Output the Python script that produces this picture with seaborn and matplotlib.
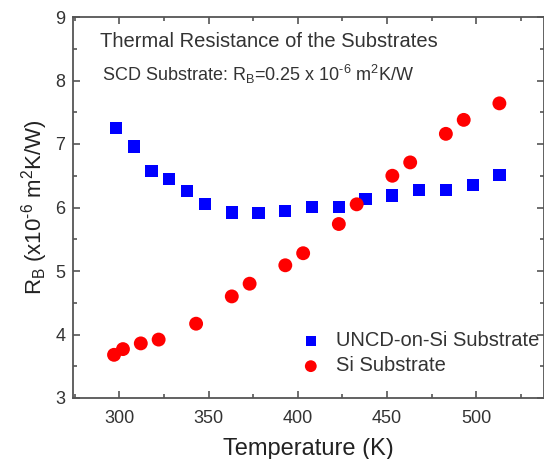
import matplotlib
matplotlib.use("Agg")
import matplotlib.pyplot as plt
import seaborn as sns
import pandas as pd
from matplotlib.ticker import MultipleLocator

uncd_T = [298, 308, 318, 328, 338, 348, 363, 378, 393, 408, 423, 438, 453, 468, 483, 498, 513]
uncd_R = [7.25, 6.96, 6.57, 6.45, 6.26, 6.06, 5.92, 5.91, 5.94, 6.01, 6.01, 6.13, 6.19, 6.28, 6.28, 6.35, 6.51]
si_T = [297, 302, 312, 322, 343, 363, 373, 393, 403, 423, 433, 453, 463, 483, 493, 513]
si_R = [3.68, 3.77, 3.86, 3.92, 4.17, 4.60, 4.80, 5.09, 5.28, 5.74, 6.05, 6.50, 6.71, 7.16, 7.38, 7.64]

sns.set_style("white")
plt.rcParams['font.family'] = ['Liberation Sans', 'DejaVu Sans']
plt.rcParams['mathtext.fontset'] = 'custom'
plt.rcParams['mathtext.rm'] = 'Liberation Sans'
plt.rcParams['mathtext.it'] = 'Liberation Sans'
plt.rcParams['axes.unicode_minus'] = False

fig = plt.figure(figsize=(5.44, 4.59), dpi=100)
ax = fig.add_axes([73/544, 61/459, 471/544, 381/459])

df_u = pd.DataFrame({"T": uncd_T, "R": uncd_R})
df_s = pd.DataFrame({"T": si_T, "R": si_R})
sns.scatterplot(data=df_u, x="T", y="R", ax=ax, marker="s", s=78, color="#0000ff",
                edgecolor="none", label="UNCD-on-Si Substrate")
sns.scatterplot(data=df_s, x="T", y="R", ax=ax, marker="o", s=100, color="#ff0000",
                edgecolor="none", label="Si Substrate")

ax.set_xlim(274, 538)
ax.set_ylim(3, 9)
ax.xaxis.set_major_locator(MultipleLocator(50))
ax.xaxis.set_minor_locator(MultipleLocator(25))
ax.yaxis.set_major_locator(MultipleLocator(1))
ax.yaxis.set_minor_locator(MultipleLocator(0.5))
ax.tick_params(which='both', direction='in', bottom=True, left=True, top=True, right=True,
               colors='#555555', labelcolor='#333333', labelsize=13)
ax.tick_params(which='major', length=5, width=1.2)
ax.tick_params(which='minor', length=3, width=1.2)
ax.tick_params(axis='x', which='major', pad=8.5)
ax.tick_params(axis='y', which='major', pad=5.5)
for sp in ax.spines.values():
    sp.set_color('#555555')
    sp.set_linewidth(1.3)

ax.set_xlabel("Temperature (K)", fontsize=17, color='#222222', labelpad=8)
ax.set_ylabel("R$_\\mathregular{B}$ (x10$^{\\mathregular{\u2010}\\mathregular{6}}$ m$^\\mathregular{2}$K/W)",
              fontsize=16, color='#222222', labelpad=4)

ax.text(0.058, 0.935, "Thermal Resistance of the Substrates", transform=ax.transAxes,
        fontsize=14.5, color='#333333', va='center')
ax.text(0.062, 0.85, "SCD Substrate: R$_\\mathregular{B}$=0.25 x 10$^{\\mathregular{\u2010}\\mathregular{6}}$ m$^\\mathregular{2}$K/W",
        transform=ax.transAxes, fontsize=13, color='#333333', va='center')

leg = ax.legend(loc='center left', bbox_to_anchor=(0.445, 0.117), frameon=False,
                fontsize=14.5, handletextpad=0.25, labelspacing=0.3, markerscale=0.85,
                borderaxespad=0)
for t in leg.get_texts():
    t.set_color('#333333')

fig.savefig("out.png", dpi=100)
